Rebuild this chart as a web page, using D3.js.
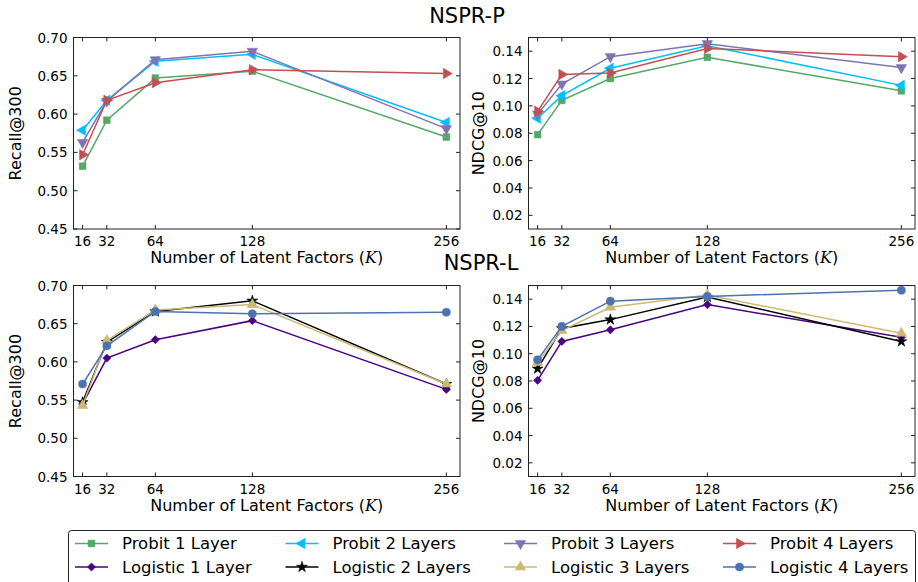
<!DOCTYPE html>
<html>
<head>
<meta charset="utf-8">
<script src="https://cdn.jsdelivr.net/npm/d3@7"></script>
<style>
  body { margin: 0; background: #fff; }
  text { font-family: "DejaVu Sans", sans-serif; fill: #000; }
</style>
</head>
<body>
<script>
'use strict';
// x values (number of latent factors) and tick labels
const kValues = [16, 32, 64, 128, 256];
const recallTicks = [0.45, 0.50, 0.55, 0.60, 0.65, 0.70];
const ndcgTicks = [0.02, 0.04, 0.06, 0.08, 0.10, 0.12, 0.14];

const probitNames = ['Probit 1 Layer', 'Probit 2 Layers', 'Probit 3 Layers', 'Probit 4 Layers'];
const logisticNames = ['Logistic 1 Layer', 'Logistic 2 Layers', 'Logistic 3 Layers', 'Logistic 4 Layers'];

// NSPR-P
const probitRecall = [
    [0.532, 0.592, 0.647, 0.656, 0.570],
    [0.579, 0.618, 0.669, 0.678, 0.589],
    [0.563, 0.617, 0.671, 0.682, 0.581],
    [0.547, 0.618, 0.641, 0.658, 0.653]
];
const probitNdcg = [
    [0.079, 0.104, 0.120, 0.1355, 0.111],
    [0.091, 0.1075, 0.1275, 0.144, 0.115],
    [0.094, 0.116, 0.136, 0.1455, 0.128],
    [0.096, 0.123, 0.124, 0.142, 0.136]
];
// NSPR-L
const logisticRecall = [
    [0.545, 0.605, 0.629, 0.654, 0.564],
    [0.547, 0.626, 0.666, 0.680, 0.571],
    [0.543, 0.628, 0.668, 0.675, 0.571],
    [0.571, 0.621, 0.666, 0.663, 0.665]
];
const logisticNdcg = [
    [0.0805, 0.109, 0.1175, 0.136, 0.112],
    [0.089, 0.1185, 0.125, 0.1415, 0.109],
    [0.0935, 0.117, 0.134, 0.143, 0.115],
    [0.0955, 0.120, 0.1385, 0.142, 0.1465]
];

const probitColors = ['#55a868', '#00bfff', '#8172b2', '#c44e52'];
const logisticColors = ['#4b0082', '#000000', '#ccb974', '#4c72b0'];
const probitMarkers = ['square', 'left', 'down', 'right'];
const logisticMarkers = ['diamond', 'star', 'up', 'circle'];

const W = 918, H = 582;
const svg = d3.select('body').append('svg')
    .attr('width', W)
    .attr('height', H);

function symbolPath(kind) {
    let sym = d3.symbol();
    if (kind == 'square') return sym.type(d3.symbolSquare).size(46)();
    if (kind == 'diamond') return sym.type(d3.symbolSquare).size(34)();
    if (kind == 'circle') return sym.type(d3.symbolCircle).size(52)();
    if (kind == 'star') return sym.type(d3.symbolStar).size(38)();
    return sym.type(d3.symbolTriangle).size(48)();
}
function symbolRotate(kind) {
    return {left: -90, right: 90, down: 180, diamond: 45}[kind] || 0;
}

function drawPanel(p) {
    let g = svg.append('g');
    let x = d3.scaleLinear().domain([10, 265]).range([p.x0, p.x1]);
    let y = d3.scaleLinear().domain(p.domain).range([p.y1, p.y0]);

    // ticks inward on all sides
    let tickLen = 4;
    kValues.forEach((k) => {
        g.append('line').attr('x1', x(k)).attr('x2', x(k)).attr('y1', p.y1).attr('y2', p.y1 - tickLen)
            .attr('stroke', '#222');
        g.append('line').attr('x1', x(k)).attr('x2', x(k)).attr('y1', p.y0).attr('y2', p.y0 + tickLen)
            .attr('stroke', '#222');
        g.append('text')
            .attr('x', x(k))
            .attr('y', p.y1 + 12)
            .attr('text-anchor', 'middle')
            .attr('dominant-baseline', 'central')
            .style('font-size', '13.5px')
            .text(k);
    });
    p.ticks.forEach((t) => {
        g.append('line').attr('x1', p.x0).attr('x2', p.x0 + tickLen).attr('y1', y(t)).attr('y2', y(t))
            .attr('stroke', '#222');
        g.append('line').attr('x1', p.x1).attr('x2', p.x1 - tickLen).attr('y1', y(t)).attr('y2', y(t))
            .attr('stroke', '#222');
        g.append('text')
            .attr('x', p.x0 - 6)
            .attr('y', y(t))
            .attr('text-anchor', 'end')
            .attr('dominant-baseline', 'central')
            .style('font-size', '13.5px')
            .text(t.toFixed(2));
    });

    let line = d3.line()
        .x((d, i) => x(kValues[i]))
        .y((d) => y(d));
    p.series.forEach((s, si) => {
        g.append('path')
            .datum(s)
            .attr('fill', 'none')
            .attr('stroke', p.colors[si])
            .attr('stroke-width', 1.5)
            .attr('d', line);
        g.selectAll('.m' + si)
            .data(s)
            .enter()
            .append('path')
            .attr('d', symbolPath(p.markers[si]))
            .attr('transform', (d, i) => 'translate(' + x(kValues[i]) + ',' + y(d) + ')rotate(' + symbolRotate(p.markers[si]) + ')')
            .attr('fill', p.colors[si])
            .attr('stroke', p.colors[si])
            .attr('stroke-width', 0.5);
    });

    g.append('rect')
        .attr('x', p.x0)
        .attr('y', p.y0)
        .attr('width', p.x1 - p.x0)
        .attr('height', p.y1 - p.y0)
        .attr('fill', 'none')
        .attr('stroke', '#222')
        .attr('stroke-width', 1);

    let xl = g.append('text')
        .attr('x', (p.x0 + p.x1) / 2)
        .attr('y', p.y1 + 34)
        .attr('text-anchor', 'middle')
        .style('font-size', '16px');
    xl.append('tspan').text('Number of Latent Factors (');
    xl.append('tspan').style('font-family', '"DejaVu Serif", serif').style('font-style', 'italic').text('K');
    xl.append('tspan').text(')');

    g.append('text')
        .attr('transform', 'translate(' + (p.x0 - p.ylabelOffset) + ',' + ((p.y0 + p.y1) / 2) + ')rotate(-90)')
        .attr('text-anchor', 'middle')
        .attr('dominant-baseline', 'central')
        .style('font-size', '16px')
        .text(p.ylabel);
}

let panels = [
    {x0: 73.5, x1: 460, y0: 37.5, y1: 229, domain: [0.45, 0.70], ticks: recallTicks, ylabel: 'Recall@300', ylabelOffset: 58,
        series: probitRecall, colors: probitColors, markers: probitMarkers},
    {x0: 528.5, x1: 915, y0: 37.5, y1: 229, domain: [0.01, 0.15], ticks: ndcgTicks, ylabel: 'NDCG@10', ylabelOffset: 50,
        series: probitNdcg, colors: probitColors, markers: probitMarkers},
    {x0: 73.5, x1: 460, y0: 285.5, y1: 476.5, domain: [0.45, 0.70], ticks: recallTicks, ylabel: 'Recall@300', ylabelOffset: 58,
        series: logisticRecall, colors: logisticColors, markers: logisticMarkers},
    {x0: 528.5, x1: 915, y0: 285.5, y1: 476.5, domain: [0.01, 0.15], ticks: ndcgTicks, ylabel: 'NDCG@10', ylabelOffset: 50,
        series: logisticNdcg, colors: logisticColors, markers: logisticMarkers}
];
panels.forEach(drawPanel);

svg.append('text')
    .attr('x', 467)
    .attr('y', 23)
    .attr('text-anchor', 'middle')
    .style('font-size', '21px')
    .text('NSPR-P');
svg.append('text')
    .attr('x', 481)
    .attr('y', 270)
    .attr('text-anchor', 'middle')
    .style('font-size', '21px')
    .text('NSPR-L');

// legend
let legend = svg.append('g');
legend.append('rect')
    .attr('x', 68.5)
    .attr('y', 530.5)
    .attr('width', 847)
    .attr('height', 60)
    .attr('rx', 3)
    .attr('fill', '#fff')
    .attr('stroke', '#222');
let legendCols = [75, 285.5, 504, 723];
let legendRows = [543.5, 567];
let rows = [
    {names: probitNames, colors: probitColors, markers: probitMarkers},
    {names: logisticNames, colors: logisticColors, markers: logisticMarkers}
];
rows.forEach((r, ri) => {
    r.names.forEach((name, ci) => {
        let lx = legendCols[ci];
        let ly = legendRows[ri];
        legend.append('line')
            .attr('x1', lx).attr('x2', lx + 33)
            .attr('y1', ly).attr('y2', ly)
            .attr('stroke', r.colors[ci])
            .attr('stroke-width', 1.5);
        legend.append('path')
            .attr('d', symbolPath(r.markers[ci]))
            .attr('transform', 'translate(' + (lx + 16.5) + ',' + ly + ')rotate(' + symbolRotate(r.markers[ci]) + ')')
            .attr('fill', r.colors[ci])
            .attr('stroke', r.colors[ci])
            .attr('stroke-width', 0.5);
        legend.append('text')
            .attr('x', lx + 47)
            .attr('y', ly)
            .attr('dominant-baseline', 'central')
            .style('font-size', '16.5px')
            .text(name);
    });
});
</script>
</body>
</html>
